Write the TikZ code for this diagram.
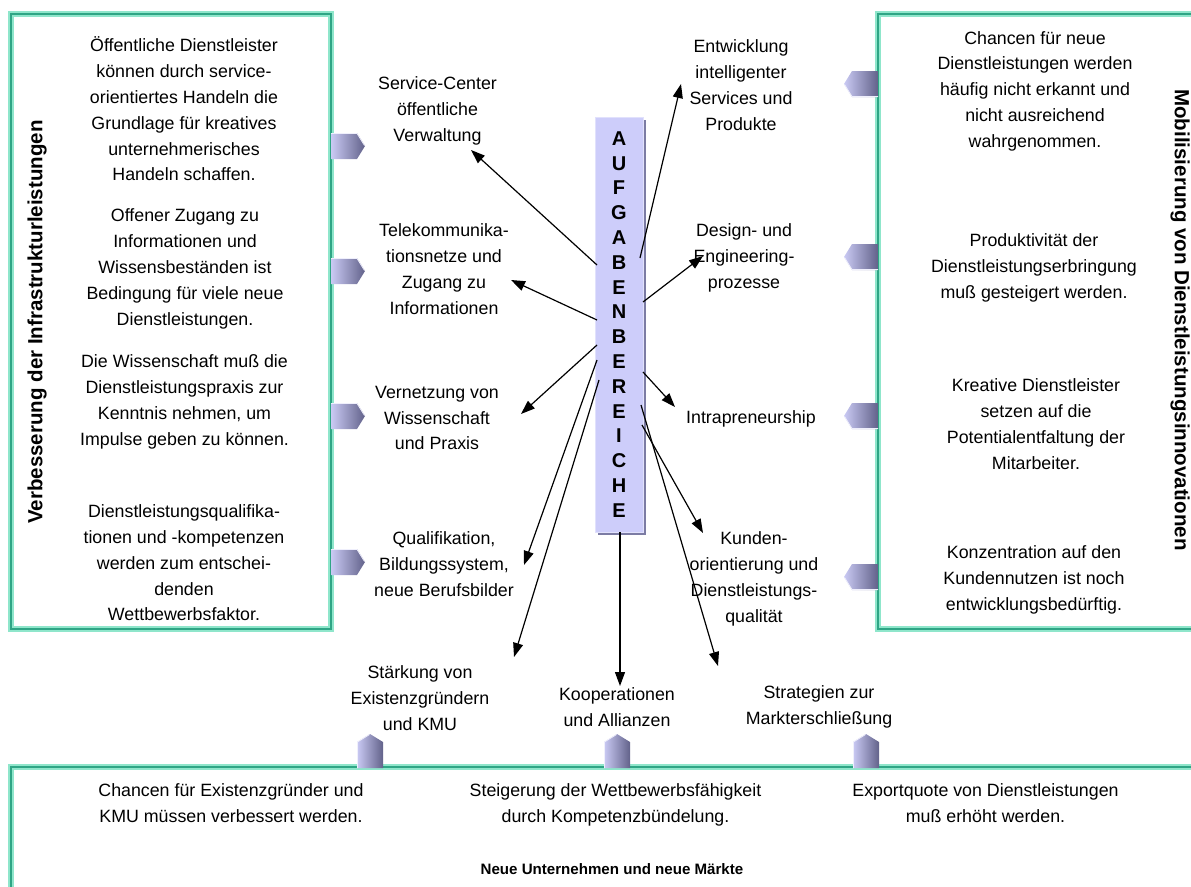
\documentclass[tikz,border=0pt]{standalone}
\usepackage{fontspec}
\setmainfont{Liberation Sans}
\usetikzlibrary{arrows.meta}

\definecolor{tealL}{HTML}{8FE6CB}
\definecolor{tealD}{HTML}{2FA585}
\definecolor{tabD}{HTML}{62628A}
\definecolor{tabL}{HTML}{CACAF4}
\definecolor{boxF}{HTML}{CDCDFA}
\definecolor{boxS}{HTML}{7C7CA4}

\tikzset{
  txt/.style={font=\fontsize{17.8}{25.8}\selectfont, align=center, inner sep=0pt},
  sidettl/.style={font=\fontsize{20.5}{24}\selectfont\bfseries, inner sep=0pt},
  conn/.style={draw=black, line width=1.2pt, -{Triangle[length=14pt,width=10pt]}},
  frameouter/.style={draw=tealL, line width=6pt},
  frameinner/.style={draw=tealD, line width=1.8pt},
  tab/.pic={
    \shade[left color=tabL, right color=tabD] (-2,-13) -- (24,-13) -- (32,0) -- (24,13) -- (-2,13) -- cycle;
    \draw[white!70!tabL, line width=0.8pt] (-2,-12.6) -- (24,-12.6) -- (31.5,-0.5);
  }
}

\begin{document}
\begin{tikzpicture}[x=1pt,y=-1pt]
\useasboundingbox (0,0) rectangle (1191,886);
\clip (0,0) rectangle (1191,886);

% three framed panels
\draw[frameouter] (11,14) rectangle (331,629);
\draw[frameinner] (11,14) rectangle (331,629);
\draw[frameouter] (878,14) rectangle (1210,629);
\draw[frameinner] (878,14) rectangle (1210,629);
\draw[frameouter] (11,767) rectangle (1210,910);
\draw[frameinner] (11,767) rectangle (1210,910);

% tabs on the panels
\foreach \ty in {146,271,416,562} { \pic at (333,\ty) {tab}; }
\foreach \ty in {84,257,416,577} { \pic[rotate=180] at (876,\ty) {tab}; }
\foreach \tx in {370,617,866} { \pic[rotate=90] at (\tx,766) {tab}; }

% panel titles
\node[sidettl, rotate=90] (tleft) at (37,322) {Verbesserung der Infrastrukturleistungen};
\node[sidettl, rotate=-90] (tright) at (1180,320) {Mobilisierung von Dienstleistungsinnovationen};
\node[font=\fontsize{15.1}{18}\selectfont\bfseries, inner sep=0pt] (tbottom) at (612,869) {Neue Unternehmen und neue Märkte};

% left panel statements
\node[txt] (l1) at (184,109) {Öffentliche Dienstleister\\können durch service-\\orientiertes Handeln die\\Grundlage für kreatives\\unternehmerisches\\Handeln schaffen.};
\node[txt] (l2) at (185,269) {Offener Zugang zu\\Informationen und\\Wissensbeständen ist\\Bedingung für viele neue\\Dienstleistungen.};
\node[txt] (l3) at (184.5,402) {Die Wissenschaft muß die\\Dienstleistungspraxis zur\\Kenntnis nehmen, um\\Impulse geben zu können.};
\node[txt] (l4) at (184,563) {Dienstleistungsqualifika-\\tionen und -kompetenzen\\werden zum entschei-\\denden\\Wettbewerbsfaktor.};

% right panel statements
\node[txt] (r1) at (1035,91) {Chancen für neue\\Dienstleistungen werden\\häufig nicht erkannt und\\nicht ausreichend\\wahrgenommen.};
\node[txt] (r2) at (1034,268) {Produktivität der\\Dienstleistungserbringung\\muß gesteigert werden.};
\node[txt] (r3) at (1036,424) {Kreative Dienstleister\\setzen auf die\\Potentialentfaltung der\\Mitarbeiter.};
\node[txt] (r4) at (1034,580) {Konzentration auf den\\Kundennutzen ist noch\\entwicklungsbedürftig.};

% bottom panel statements
\node[txt] (b1) at (231,803) {Chancen für Existenzgründer und\\KMU müssen verbessert werden.};
\node[txt] (b2) at (615.5,805) {Steigerung der Wettbewerbsfähigkeit\\durch Kompetenzbündelung.};
\node[txt] (b3) at (985.5,803) {Exportquote von Dienstleistungen\\muß erhöht werden.};

% central column
\fill[boxS] (598,120) rectangle (646,535);
\node[fill=boxF, draw=boxF!60!white, line width=0.8pt, minimum width=48pt, minimum height=415pt, inner sep=0pt,
      align=center, font=\fontsize{20}{24.8}\selectfont\bfseries] (cb) at (619,324.5)
  {A\\U\\F\\G\\A\\B\\E\\N\\B\\E\\R\\E\\I\\C\\H\\E};

% task labels
\node[txt] (m1) at (437.5,111) {Service-Center\\öffentliche\\Verwaltung};
\node[txt] (m2) at (444,269) {Telekommunika-\\tionsnetze und\\Zugang zu\\Informationen};
\node[txt] (m3) at (437,418) {Vernetzung von\\Wissenschaft\\und Praxis};
\node[txt] (m4) at (444,564) {Qualifikation,\\Bildungssystem,\\neue Berufsbilder};
\node[txt] (m5) at (420,698) {Stärkung von\\Existenzgründern\\und KMU};
\node[txt] (m6) at (617,707) {Kooperationen\\und Allianzen};
\node[txt] (m7) at (819,707) {Strategien zur\\Markterschließung};
\node[txt] (m8) at (754,579) {Kunden-\\orientierung und\\Dienstleistungs-\\qualität};
\node[txt] (m9) at (751,419) {Intrapreneurship};
\node[txt] (m10) at (744,258) {Design- und\\Engineering-\\prozesse};
\node[txt] (m11) at (741,85) {Entwicklung\\intelligenter\\Services und\\Produkte};

% arrow end points
\coordinate (s1) at (597,265);  \coordinate (e1) at (471,150);
\coordinate (s2) at (597,320);  \coordinate (e2) at (511,280);
\coordinate (s3) at (597,345);  \coordinate (e3) at (521,414);
\coordinate (s4) at (597,360);  \coordinate (e4) at (524,565);
\coordinate (s5) at (599,380);  \coordinate (e5) at (514,657);
\coordinate (s6) at (620,532);  \coordinate (e6) at (620,686);
\coordinate (s7) at (641,405);  \coordinate (e7) at (718,666);
\coordinate (s8) at (642,425);  \coordinate (e8) at (703,533);
\coordinate (s9) at (643,372);  \coordinate (e9) at (675,407);
\coordinate (s10) at (643,302); \coordinate (e10) at (703,256);
\coordinate (s11) at (640,258); \coordinate (e11) at (681,84);

\foreach \i in {1,...,11} { \draw[conn] (s\i) -- (e\i); }
\end{tikzpicture}
\end{document}
